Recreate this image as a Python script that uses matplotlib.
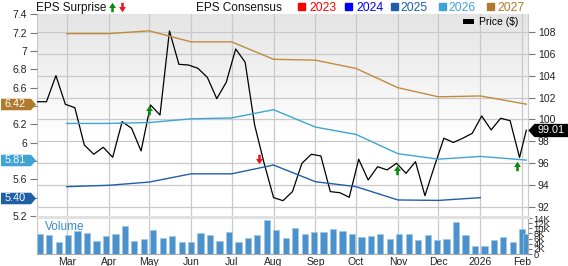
import matplotlib
matplotlib.use('Agg')
import matplotlib.pyplot as plt
import matplotlib.dates as mdates
from matplotlib.path import Path
from matplotlib.patches import Rectangle, Patch
from matplotlib.lines import Line2D
from matplotlib.transforms import blended_transform_factory
import numpy as np
import pandas as pd

plt.rcParams['font.family'] = ['Liberation Sans', 'DejaVu Sans']

# precio semanal (USD)
fechas_precio = list(pd.date_range('2025-02-07', periods=52, freq='7D')) + [pd.Timestamp('2026-02-04')]
precio = [101.63, 101.63, 104.02, 101.39, 101.08, 97.66, 96.81, 97.45, 96.53, 99.80,
          99.19, 97.11, 101.33, 100.41, 108.12, 105.06, 105.00, 104.70, 103.87, 101.91,
          103.41, 106.47, 105.25, 99.50, 96.00, 92.83, 92.55, 93.38, 95.98, 96.81,
          96.65, 93.38, 93.28, 92.86, 96.35, 94.45, 95.67, 95.37, 95.98, 95.06,
          96.13, 93.01, 95.70, 98.28, 97.89, 98.28, 98.73, 100.32, 99.04, 100.11,
          99.89, 96.51, 99.01]

# volumen semanal (miles)
fechas_vol = list(pd.date_range('2025-02-09', periods=52, freq='7D')) + [pd.Timestamp('2026-02-04')]
volumen = [7.8, 7.4, 4.7, 7.5, 8.9, 8.2, 5.1, 7.0, 7.7, 10.9, 5.2, 5.7, 9.3, 6.1, 7.0, 4.8, 4.7,
           8.1, 7.3, 5.1, 8.4, 4.7, 6.4, 7.4, 13.1, 9.5, 6.4, 10.1, 7.7, 8.6, 8.6, 9.9, 8.9, 7.7, 6.7,
           7.0, 7.9, 5.7, 7.8, 7.7, 5.3, 7.3, 5.3, 6.0, 12.5, 7.3, 3.0, 3.1, 5.3, 6.5, 4.8, 9.6, 7.8]

# consenso EPS mensual
fechas_eps = [pd.Timestamp(f) for f in ['2025-03-01', '2025-04-01', '2025-05-01', '2025-06-01',
                                        '2025-07-01', '2025-08-01', '2025-09-01', '2025-10-01',
                                        '2025-11-01', '2025-12-01', '2026-01-01', '2026-02-04']]
eps_2025 = [5.52, 5.535, 5.57, 5.66, 5.66, 5.756, 5.574, 5.52, 5.375, 5.37, 5.40]
eps_2026 = [6.21, 6.21, 6.22, 6.26, 6.27, 6.36, 6.17, 6.09, 5.88, 5.82, 5.85, 5.81]
eps_2027 = [7.19, 7.19, 7.22, 7.10, 7.10, 6.91, 6.90, 6.81, 6.60, 6.50, 6.51, 6.42]

# sorpresas EPS (fecha, posicion en precio, tipo)
fechas_sorpresa = [pd.Timestamp(f) for f in ['2025-05-01', '2025-07-21', '2025-10-31', '2026-01-28']]
y_sorpresa = [100.9, 96.4, 95.4, 95.7]
sorpresa_positiva = [True, False, True, True]

meses = [pd.Timestamp(f) for f in ['2025-03-01', '2025-04-01', '2025-05-01', '2025-06-01',
                                   '2025-07-01', '2025-08-01', '2025-09-01', '2025-10-01',
                                   '2025-11-01', '2025-12-01', '2026-01-01', '2026-02-01']]
etiquetas_meses = ['Mar', 'Apr', 'May', 'Jun', 'Jul', 'Aug', 'Sep', 'Oct', 'Nov', 'Dec', '2026', 'Feb']

c2023, c2024, c2025, c2026, c2027 = '#ff0000', '#0000ff', '#1f5fa8', '#3fa4d4', '#b07a2c'
gris_grid = '#c9c9c9'
verde, rojo = '#0a8a0a', '#e8141b'

W, H = 568, 266
fig = plt.figure(figsize=(W / 100, H / 100), dpi=100)

def caja(x0, y0, x1, y1):
    return [x0 / W, 1 - y1 / H, (x1 - x0) / W, (y1 - y0) / H]

ax_p = fig.add_axes(caja(37, 14, 528, 217))
ax_e = ax_p.twinx()
ax_v = fig.add_axes(caja(37, 217, 528, 254))

xmin = mdates.date2num(pd.Timestamp('2025-02-07'))
xmax = mdates.date2num(pd.Timestamp('2026-02-05 06:00'))

# fondo degradado
t = np.linspace(0, 1, 200)
g = 1 - 0.105 * np.clip((t - 0.4) / 0.6, 0, 1)
img = np.stack([g, g, g], axis=-1)[:, None, :].repeat(2, axis=1)
ax_p.imshow(img, extent=[0, 1, 0, 1], origin='lower', transform=ax_p.transAxes,
            aspect='auto', zorder=0)

# precio
ax_p.plot(mdates.date2num(fechas_precio), precio, color='black', lw=0.9, zorder=3)
ax_p.set_ylim(91.05, 109.68)
ax_p.set_xlim(xmin, xmax)
ax_p.set_yticks(range(92, 109, 2))
ax_p.yaxis.tick_right()
ax_p.tick_params(axis='y', direction='out', length=5, color='#777777', labelsize=7.5,
                 labelcolor='#222222', pad=2)
ax_p.set_xticks(mdates.date2num(meses))
ax_p.tick_params(axis='x', length=0, labelbottom=False)
ax_p.grid(True, color=gris_grid, lw=0.9)
ax_p.set_axisbelow(True)

# flechas de sorpresa
flecha_up = Path([(-0.27, -1), (0.27, -1), (0.27, -0.1), (0.73, -0.1), (0, 1),
                  (-0.73, -0.1), (-0.27, -0.1), (-0.27, -1)], closed=True)
flecha_down = Path([(x, -y) for x, y in flecha_up.vertices], closed=True)
for f, y, pos in zip(fechas_sorpresa, y_sorpresa, sorpresa_positiva):
    ax_p.plot([mdates.date2num(f)], [y], marker=flecha_up if pos else flecha_down,
              ms=6.8, color=verde if pos else rojo, mec='none', zorder=5)

# consenso EPS
ax_e.plot(mdates.date2num(fechas_eps[:len(eps_2025)]), eps_2025, color=c2025, lw=1.0)
ax_e.plot(mdates.date2num(fechas_eps), eps_2026, color=c2026, lw=1.0)
ax_e.plot(mdates.date2num(fechas_eps), eps_2027, color='#c08c3c', lw=1.0)
ax_e.set_ylim(5.189, 7.404)
ticks_eps = np.round(np.arange(5.2, 7.41, 0.2), 1)
ocultas = [5.4, 5.8, 6.4]  # tapadas por las etiquetas de consenso
ax_e.set_yticks(ticks_eps)
ax_e.set_yticklabels(['' if v in ocultas else '%g' % v for v in ticks_eps])
ax_e.yaxis.tick_left()
ax_e.tick_params(axis='y', direction='out', length=5, color='#777777', labelsize=7.5,
                 labelcolor='#222222', pad=2)
ax_e.set_xlim(xmin, xmax)

for ax in (ax_p, ax_e):
    for s in ax.spines.values():
        s.set_visible(False)
ax_p.spines['left'].set_visible(True)
ax_p.spines['right'].set_visible(True)
ax_p.spines['left'].set_color(gris_grid)
ax_p.spines['right'].set_color(gris_grid)

# etiquetas tipo flecha
tag_r = Path([(-1, -0.33), (0.714, -0.33), (1, 0), (0.714, 0.33), (-1, 0.33), (-1, -0.33)], closed=True)
tag_l = Path([(1, -0.33), (-0.7, -0.33), (-1, 0), (-0.7, 0.33), (1, 0.33), (1, -0.33)], closed=True)
tr_e = blended_transform_factory(fig.transFigure, ax_e.transData)
for val, col in zip([eps_2027[-1], eps_2026[-1], eps_2025[-1]], [c2027, c2026, c2025]):
    ax_e.plot([17.5 / W], [val], marker=tag_r, ms=25.2, color=col, mec='none',
              transform=tr_e, clip_on=False, zorder=6)
    ax_e.text(15 / W, val, '%.2f' % val, color='white', fontsize=7.8, ha='center',
              va='center', transform=tr_e, zorder=7)
tr_p = blended_transform_factory(fig.transFigure, ax_p.transData)
ax_p.plot([548 / W], [precio[-1]], marker=tag_l, ms=29, color='black', mec='none',
          transform=tr_p, clip_on=False, zorder=6)
ax_p.text(551 / W, precio[-1], '%.2f' % precio[-1], color='white', fontsize=7.8, ha='center',
          va='center', transform=tr_p, zorder=7)

ax_p.legend(handles=[Patch(facecolor='black')], labels=['Price ($)'], loc='upper right',
            bbox_to_anchor=(0.98, 0.985), frameon=False, fontsize=7.5, handlelength=1.1,
            handleheight=0.45, handletextpad=0.45, borderpad=0, borderaxespad=0)

# volumen
ax_v.bar(mdates.date2num(fechas_vol), volumen, width=4.6, color='#4b92cd',
         edgecolor='#9fc6e6', lw=0.5, zorder=3)
ax_v.set_xlim(xmin, xmax)
ax_v.set_ylim(0, 14.4)
ax_v.yaxis.tick_right()
ax_v.set_yticks(range(0, 15, 2))
ax_v.set_yticklabels(['0'] + ['%dK' % v for v in range(2, 15, 2)])
ax_v.tick_params(axis='y', direction='out', length=3, color='#777777', labelsize=6.8,
                 labelcolor='#222222', pad=1)
ax_v.set_xticks(mdates.date2num(meses))
ax_v.set_xticklabels(etiquetas_meses)
ax_v.tick_params(axis='x', length=0, labelsize=7.5, labelcolor='#222222', pad=2)
ax_v.grid(True, axis='x', color=gris_grid, lw=0.9)
ax_v.set_axisbelow(True)
for s in ('left', 'right', 'bottom'):
    ax_v.spines[s].set_color('#aaaaaa')
ax_v.spines['left'].set_color(gris_grid)
ax_v.spines['top'].set_color('#e0e0e0')
ax_v.spines['top'].set_linewidth(2.2)
ax_v.text(8 / 491, 0.74, 'Volume', transform=ax_v.transAxes, color='#3a8dce',
          fontsize=8.5, va='center', zorder=4)

# cabecera
yb = 1 - 11 / H
fig.text(36 / W, yb, 'EPS Surprise', fontsize=8.5, color='#111111', va='baseline')
fig.add_artist(Line2D([112 / W], [1 - 7 / H], marker=flecha_up, ms=6.8, color=verde,
                      mec='none', transform=fig.transFigure))
fig.add_artist(Line2D([122 / W], [1 - 7 / H], marker=flecha_down, ms=6.8, color=rojo,
                      mec='none', transform=fig.transFigure))
fig.text(196 / W, yb, 'EPS Consensus', fontsize=8.5, color='#111111', va='baseline')
for cx, tx, lab, col in zip([301.5, 348.5, 394, 442, 490], [309, 356, 400, 448, 497],
                            ['2023', '2024', '2025', '2026', '2027'],
                            [c2023, c2024, c2025, c2026, c2027]):
    fig.add_artist(Rectangle(((cx - 3.5) / W, 1 - 10 / H), 7 / W, 7 / H, color=col,
                             transform=fig.transFigure))
    fig.text(tx / W, yb, lab, fontsize=8.8, color=col, va='baseline')

fig.savefig('out.png', dpi=100)
